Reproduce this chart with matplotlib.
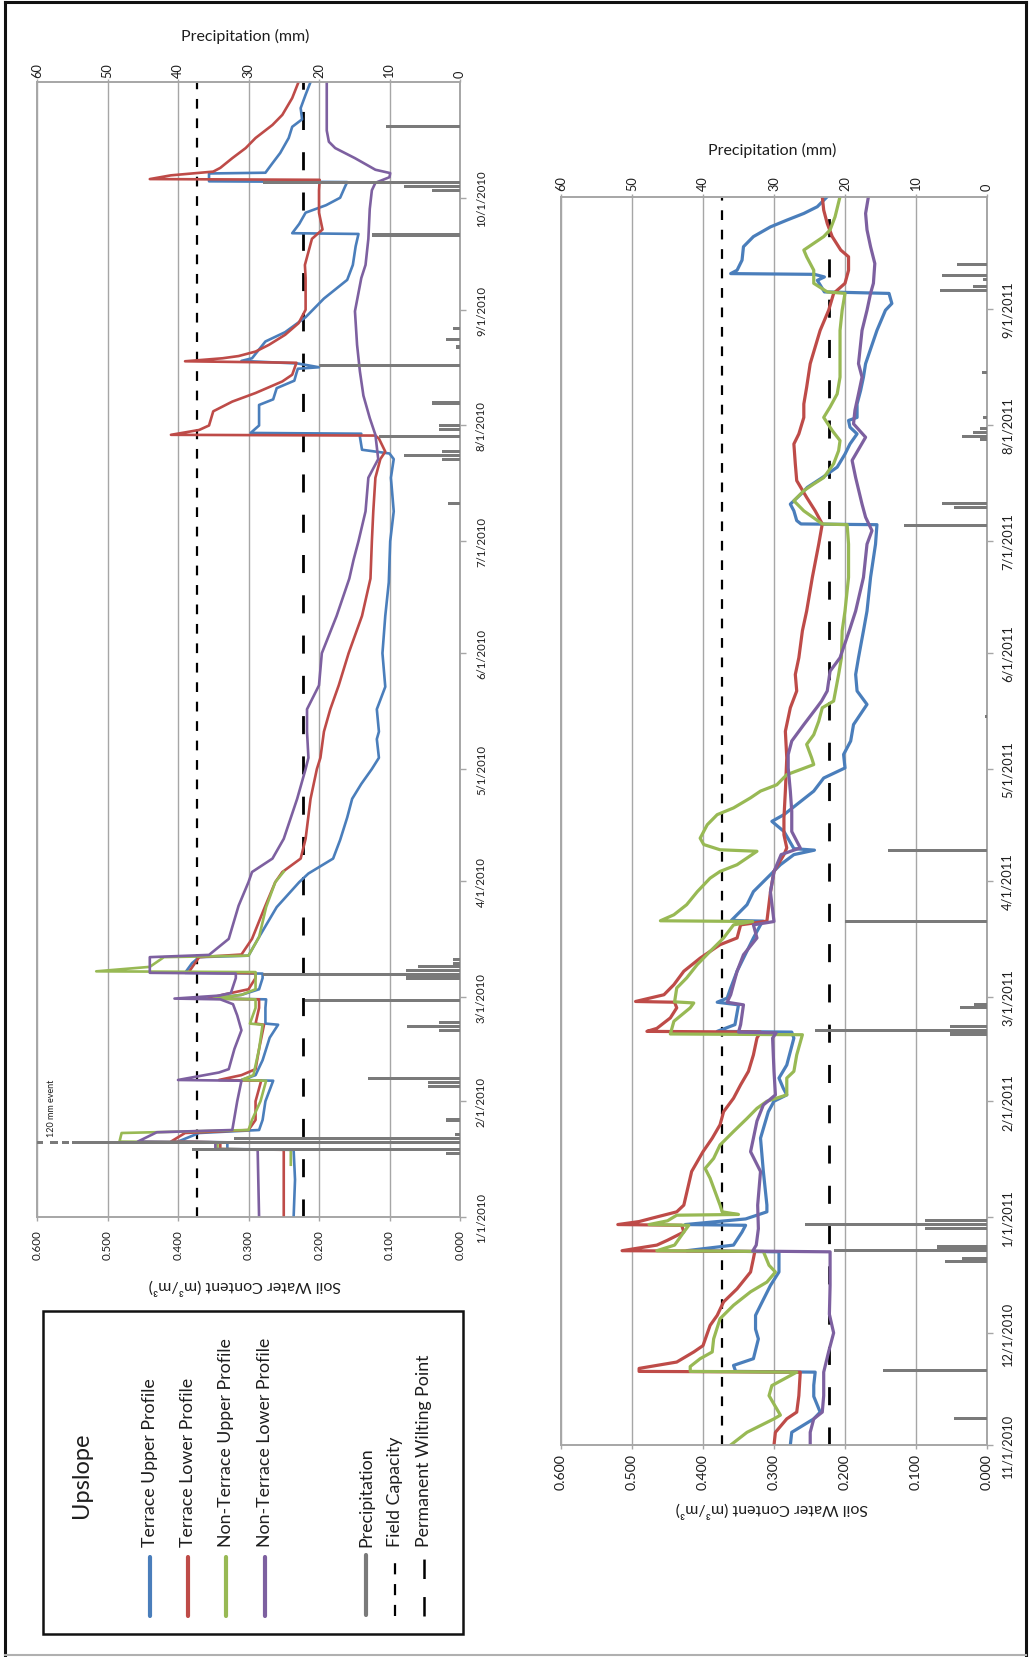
import datetime as dt
import numpy as np
import matplotlib
matplotlib.use("Agg")
import matplotlib.pyplot as plt
import matplotlib.dates as mdates
from matplotlib.lines import Line2D
from matplotlib.patches import Rectangle

plt.rcParams['font.family'] = ['Lato', 'DejaVu Sans']
plt.rcParams['lines.scale_dashes'] = False

# ---------------------------------------------------------------- data
field_capacity = 0.373
wilting_point = 0.222
swc_ticks = [0.0, 0.1, 0.2, 0.3, 0.4, 0.5, 0.6]
precip_ticks = [0, 10, 20, 30, 40, 50, 60]

# first season: day offsets from 1/1/2010, soil water content (m3/m3)
dates_2010 = ["1/1/2010", "2/1/2010", "3/1/2010", "4/1/2010", "5/1/2010",
              "6/1/2010", "7/1/2010", "8/1/2010", "9/1/2010", "10/1/2010"]
start_2010, end_2010 = "1/1/2010", "11/1/2010"

terrace_upper_2010 = [
    (0, .236), (10, .234), (18.0, .236), (18.2, .33), (20.0, .33), (20.2, .40), (22.5, .37),
    (23.3, .285), (26, .28), (31, .276), (35, .268), (36.5, .265), (36.7, .31), (38, .29),
    (42, .28), (48, .27), (51.5, .258), (51.8, .276), (56, .276), (58.3, .275), (58.5, .355),
    (59.5, .31), (61, .285), (64, .28), (65.2, .28), (65.4, .39), (68, .38), (69.6, .37),
    (70, .30), (75, .285), (83, .26), (89.7, .228), (92, .215), (96, .18), (101, .17),
    (107, .16), (112, .153), (116, .14), (120, .125), (123, .115), (128, .118), (130, .115),
    (136, .118), (142, .106), (151, .11), (161, .106), (170, .101), (181, .099), (189, .094),
    (198, .098), (203, .094), (204.5, .10), (205.5, .139), (209, .142), (209.8, .14),
    (210, .297), (212, .285), (217.5, .285), (219, .265), (222, .26), (224, .235), (226, .232),
    (227.2, .23), (227.6, .20), (228.6, .23), (229.3, .31), (230, .295), (234.5, .276),
    (237, .248), (241, .219), (246, .193), (251, .16), (255, .152), (260, .148), (263.3, .144),
    (263.5, .238), (266, .228), (269, .219), (271, .19), (273, .17), (276, .163), (277.2, .16),
    (277.4, .356), (279.5, .356), (279.7, .276), (282, .267), (285, .255), (289, .243),
    (292, .238), (294, .224), (297, .226), (300.6, .219), (304, .212)]

terrace_lower_2010 = [
    (0, .25), (18.0, .25), (18.2, .34), (20.0, .34), (20.2, .41), (22.5, .39), (23.3, .30),
    (26, .29), (31, .29), (36.5, .282), (36.7, .342), (38, .31), (39.6, .29), (45, .285),
    (51.5, .278), (51.8, .29), (56, .285), (58.3, .285), (58.5, .358), (59.5, .337), (61, .30),
    (64, .29), (65.3, .29), (65.5, .385), (69.6, .37), (70.3, .31), (74.5, .295), (83.4, .276),
    (89.7, .262), (92.4, .252), (96, .226), (101.3, .219), (112, .212), (120, .203),
    (123, .198), (130, .193), (136, .184), (142.4, .172), (151, .158), (161, .139), (171, .127),
    (181, .125), (189, .123), (198, .12), (203, .113), (205, .106), (208.5, .115), (209.3, .12),
    (209.5, .41), (210.8, .37), (212, .356), (215.8, .35), (218.4, .323), (220.7, .29),
    (223.8, .252), (225.6, .238), (228.8, .232), (229.2, .39), (230, .337), (230.6, .314),
    (231.8, .29), (233.6, .271), (236.3, .248), (239.4, .229), (243, .219), (251.5, .219),
    (255, .22), (262, .21), (264.5, .195), (269, .20), (275, .20), (277.8, .199), (278.0, .44),
    (279, .41), (280, .35), (281, .34), (283.6, .323), (286.3, .304), (289, .29), (292.5, .266),
    (295.2, .252), (299.7, .238), (304, .229)]

non_terrace_upper_2010 = [
    (14, .24), (18.0, .24), (18.2, .344), (20.0, .344), (20.2, .483), (22.5, .48), (23.3, .30),
    (26, .295), (31, .283), (36.5, .275), (36.7, .31), (38, .293), (45, .285), (51.5, .28),
    (51.8, .298), (56, .29), (58.3, .29), (58.5, .35), (59.5, .31), (61, .29), (64, .29),
    (65.6, .29), (65.8, .516), (67, .44), (69.6, .42), (70, .30), (75, .285), (83, .275),
    (89.7, .262), (92.5, .25)]

non_terrace_lower_2010 = [
    (0, .285), (18.0, .287), (18.2, .347), (20.0, .347), (20.2, .457), (22.7, .43), (23.3, .323),
    (31, .316), (36.5, .31), (36.7, .40), (38.7, .342), (39.6, .328), (45, .32), (50, .31),
    (54, .316), (57, .322), (58.3, .34), (58.5, .405), (59.3, .342), (60, .325), (64, .318),
    (65.2, .318), (65.4, .44), (69.6, .44), (70.2, .356), (74.5, .328), (83.4, .314),
    (89.7, .30), (92.4, .295), (96, .266), (101.3, .25), (112, .231), (120, .219), (123, .215),
    (130, .217), (136, .217), (142.4, .20), (151, .196), (161, .175), (171, .157), (176, .151),
    (181, .144), (189, .134), (198, .13), (203, .116), (209.5, .12), (214, .128), (220, .137),
    (226.5, .142), (233.6, .146), (242.6, .149), (251.5, .14), (255, .134), (262, .13),
    (270, .128), (275, .125), (277, .12), (278.5, .10), (279.6, .099), (280.5, .12),
    (282, .134), (283.6, .149), (286.3, .177), (288, .186), (291, .189), (304, .189)]

precip_2010 = [
    (17, 2), (18, 38), (20, 120), (21, 32), (22, 0.7), (26, 2), (35, 4.5), (36, 4.5), (37, 13),
    (50, 3), (51, 7.5), (52, 3), (58, 22), (64, 7.7), (65, 28), (66, 7.7), (67, 6), (68, 1),
    (69, 1), (191, 1.7), (203, 2.5), (204, 8), (205, 2.5), (209, 11.5), (211, 3), (212, 3),
    (218, 4), (228, 20), (233, 0.5), (235, 2), (238, 1), (263, 12.5), (275, 4), (276, 8),
    (277, 28), (292, 10.5)]

# second season: day offsets from 11/1/2010
dates_2011 = ["11/1/2010", "12/1/2010", "1/1/2011", "2/1/2011", "3/1/2011", "4/1/2011",
              "5/1/2011", "6/1/2011", "7/1/2011", "8/1/2011", "9/1/2011"]
start_2011, end_2011 = "11/1/2010", "10/1/2011"

terrace_upper_2011 = [
    (0, .277), (3.4, .275), (7, .244), (8.8, .235), (13, .244), (16, .244), (19.5, .242),
    (19.7, .354), (21.3, .357), (23.1, .329), (28.4, .322), (31, .326), (34.7, .326),
    (37.4, .319), (42.7, .305), (46.3, .293), (51.7, .293), (52.0, .423), (53.5, .357),
    (57, .345), (58.8, .34), (59.0, .425), (60.5, .34), (62.4, .31), (64.2, .31), (73.2, .315),
    (82.1, .319), (89.2, .308), (92, .30), (93.7, .282), (95.5, .287), (98.2, .293),
    (101.7, .282), (108.9, .272), (110.5, .275), (110.7, .38), (112.5, .355), (117.8, .35),
    (118.5, .38), (119.6, .366), (122.3, .361), (126.8, .352), (135.7, .329), (139.2, .319),
    (140.2, .315), (140.4, .36), (144.6, .338), (148.1, .329), (151.7, .31), (155.3, .291),
    (158, .272), (159.2, .243), (159.6, .272), (164.2, .286), (166.9, .303), (168.7, .286),
    (171.4, .268), (175, .244), (178.5, .23), (181.2, .20), (184.8, .202), (188.4, .192),
    (192.8, .188), (198.2, .169), (201.8, .183), (206.2, .185), (210.7, .181), (217.9, .174),
    (223.2, .169), (232.2, .164), (241.1, .157), (246.3, .155), (246.5, .262), (247.4, .268),
    (250, .272), (251.8, .277), (254.5, .262), (256.3, .253), (258.9, .232), (261.7, .211),
    (265.2, .20), (267.9, .193), (270.6, .183), (272.4, .193), (274.2, .195), (275, .183),
    (278.6, .183), (282.2, .178), (285.8, .174), (289.4, .171), (298.3, .155), (303.7, .143),
    (305.5, .134), (308.2, .138), (308.6, .229), (311.7, .239), (312.6, .229), (313.3, .243),
    (313.5, .361), (314.4, .352), (317.1, .345), (320.7, .343), (323.4, .329), (326, .305),
    (327.8, .282), (329.6, .258), (331.4, .239), (334.1, .225)]

terrace_lower_2011 = [
    (0, .30), (3.4, .298), (7, .282), (8.8, .268), (13.2, .265), (19.5, .263), (19.7, .49),
    (20.5, .49), (22.2, .437), (24.9, .413), (26.6, .40), (32, .39), (34.7, .38), (38.3, .371),
    (41.8, .352), (46.3, .333), (49.9, .329), (51.8, .327), (52.0, .514), (53.5, .465),
    (54.8, .45), (57, .427), (58.8, .43), (59.0, .52), (59.8, .49), (60.6, .474), (62.4, .437),
    (64.2, .427), (73.2, .416), (78.5, .40), (82.1, .387), (85.7, .376), (89.2, .371),
    (92.8, .357), (96.4, .347), (100, .336), (104.4, .329), (108.9, .324), (110.5, .319),
    (110.7, .479), (111.5, .465), (114.3, .446), (117, .437), (118.5, .44), (118.7, .495),
    (120.5, .455), (123.2, .441), (126.8, .427), (130.3, .404), (133.9, .376), (135.7, .352),
    (139.2, .347), (140.2, .31), (148, .305), (153.5, .30), (158, .286), (159.8, .282),
    (163.3, .286), (167.8, .286), (175, .284), (183.9, .282), (191, .284), (197.3, .277),
    (201.8, .268), (206.2, .27), (210.7, .265), (217.9, .26), (223.2, .254), (232.2, .246),
    (241.1, .237), (246.5, .232), (250, .242), (253.6, .254), (258.1, .268), (262.6, .27),
    (267.9, .272), (270.6, .265), (275, .258), (278.6, .258), (283.1, .254), (289.4, .249),
    (298.3, .235), (303.7, .223), (308.2, .216), (310.9, .20), (314.4, .195), (318, .195),
    (319.8, .206), (323.4, .218), (326.9, .225), (330.5, .23), (334.1, .232)]

non_terrace_upper_2011 = [
    (0, .361), (3.4, .338), (7, .30), (8, .291), (13.2, .307), (15.9, .303), (19.5, .268),
    (19.7, .418), (21, .418), (23.1, .404), (24.9, .387), (28.4, .385), (33.8, .376),
    (37.4, .357), (41, .333), (43.6, .31), (46.3, .298), (48.1, .307), (51.8, .315),
    (52.0, .465), (53.5, .44), (57, .427), (58.8, .42), (59.0, .476), (60, .45), (61.5, .437),
    (61.7, .35), (62.4, .373), (64.2, .376), (71.4, .39), (74, .397), (76.7, .385),
    (80.3, .376), (83.9, .357), (87.4, .338), (90.1, .324), (92, .31), (93.7, .282),
    (98.2, .282), (100, .272), (104.4, .268), (109.8, .26), (110.0, .446), (113.4, .441),
    (117, .418), (118.3, .413), (118.6, .44), (122.3, .437), (125, .423), (128.6, .408),
    (132.1, .39), (135.7, .371), (139.2, .357), (140.1, .33), (140.3, .46), (141.9, .441),
    (144.6, .423), (148.1, .408), (151.7, .39), (153.5, .376), (155.3, .352), (157.1, .338),
    (158.9, .324), (159.3, .376), (160.7, .399), (162.4, .404), (166, .394), (168.7, .38),
    (170.5, .357), (173.2, .333), (175, .319), (176.7, .296), (179.4, .282), (182.1, .244),
    (183.9, .247), (187.5, .254), (190.1, .244), (193.7, .237), (197.3, .232), (199.1, .216),
    (206.2, .209), (210.7, .205), (217.9, .204), (223.2, .20), (232.2, .195), (241.1, .195),
    (246.3, .197), (246.5, .232), (250, .258), (252.7, .272), (255.4, .258), (257.2, .244),
    (258.9, .23), (262.6, .216), (266.1, .209), (268.8, .207), (271.5, .218), (275, .23),
    (277.8, .221), (281.3, .211), (285.8, .207), (298.3, .207), (303.7, .204), (308.2, .20),
    (308.6, .225), (310.9, .244), (314.4, .244), (318, .254), (319.8, .258), (321.6, .244),
    (323.4, .23), (325.2, .221), (328.7, .214), (334.1, .207)]

non_terrace_lower_2011 = [
    (0, .249), (3.4, .249), (7, .244), (8.8, .232), (13.2, .23), (19.5, .23), (25, .223),
    (30, .216), (35, .222), (42.7, .221), (51.7, .221), (51.9, .33), (53.5, .325),
    (57.9, .322), (64.2, .323), (73.2, .319), (78.5, .333), (82.1, .329), (86.7, .324),
    (91, .315), (93.7, .298), (100, .30), (108.9, .302), (110.3, .297), (110.5, .35),
    (112.5, .347), (117.8, .343), (118.5, .366), (120.5, .361), (126.8, .352), (131.2, .343),
    (135.7, .324), (139.2, .329), (140.1, .30), (148, .305), (153.5, .30), (158, .29),
    (159.8, .263), (164.2, .275), (169.6, .275), (175, .277), (181.2, .28), (184.8, .28),
    (188.4, .275), (192.8, .258), (197.3, .24), (199.1, .233), (201.8, .225), (207.1, .221),
    (210.7, .207), (217.9, .194), (223.2, .185), (232.2, .174), (241.1, .169), (244.7, .162),
    (248.3, .171), (251.8, .176), (258.9, .185), (263.5, .19), (269.7, .171), (273.3, .188),
    (276.9, .186), (281.3, .181), (285.8, .176), (289.4, .181), (298.3, .176), (303.7, .169),
    (308.2, .164), (310.9, .16), (316.2, .158), (320.7, .164), (325.2, .169), (329.6, .171),
    (334.1, .167)]

precip_2011 = [
    (7, 4.7), (20, 14.6), (49, 5.9), (50, 3.5), (52, 21.6), (53, 7), (58, 8.7), (59, 25.6),
    (60, 8.7), (110, 5.2), (111, 24.2), (112, 5.2), (117, 3.8), (118, 1.9), (140, 20),
    (159, 14), (195, 0.3), (246, 11.7), (251, 4.7), (252, 6.3), (269, 1), (270, 3.5), (271, 2),
    (272, 1), (275, 0.5), (287, 0.7), (309, 6.6), (310, 2), (312, 0.5), (313, 6.3), (316, 4.2)]

series_names = ["Terrace Upper Profile", "Terrace Lower Profile",
                "Non-Terrace Upper Profile", "Non-Terrace Lower Profile"]
series_colors = ["#4a7ebb", "#be4b48", "#98b954", "#7d60a0"]
precip_color = "#7a7a7a"
grid_color = "#a6a6a6"
text_color = "#1e1e1e"

# ---------------------------------------------------------------- layout
W, H = 1029, 1658
fig = plt.figure(figsize=(W / 100, H / 100), dpi=100)
fig.patch.set_facecolor("white")


def box(x0, y0, x1, y1):
    return [x0 / W, 1 - y1 / H, (x1 - x0) / W, (y1 - y0) / H]


def parse(s):
    return dt.datetime.strptime(s, "%m/%d/%Y")


def panel(rect, start, end, tick_dates, series, precip, lw, fs_swc, fs_pr, fs_date,
          pad_swc, pad_pr, pad_date, event=None):
    ax = fig.add_axes(rect)
    t0 = mdates.date2num(parse(start))
    t1 = mdates.date2num(parse(end))
    ax.set_xlim(0.6, 0.0)
    ax.set_ylim(t0, t1)

    ax.set_xticks(swc_ticks)
    ax.set_xticklabels([f"{v:.3f}" for v in swc_ticks], rotation=90,
                       fontsize=fs_swc, color=text_color)
    ax.tick_params(axis="x", length=3, width=1, color=grid_color, pad=pad_swc)
    ax.grid(axis="x", color=grid_color, lw=1.0, zorder=0)

    ax.yaxis.tick_right()
    ax.set_yticks([mdates.date2num(parse(d)) for d in tick_dates])
    ax.set_yticklabels(tick_dates, rotation=90, fontsize=fs_date, color=text_color)
    for lbl in ax.get_yticklabels():
        lbl.set_va("center")
    ax.tick_params(axis="y", length=4, width=1, color=grid_color, pad=pad_date)

    for sp in ax.spines.values():
        sp.set_color(grid_color)
        sp.set_linewidth(1.2)

    for data, color in zip(series, series_colors):
        d, v = zip(*data)
        ax.plot(v, t0 + np.array(d), color=color, lw=lw, zorder=3)

    ax.axvline(field_capacity, color="black", lw=1.6, dashes=(7, 7), zorder=2)
    ax.axvline(wilting_point, color="black", lw=2.0, dashes=(13, 16), zorder=2)

    ax2 = ax.twiny()
    ax2.set_xlim(60, 0)
    pdays, pmm = zip(*precip)
    ax2.barh(t0 + np.array(pdays), pmm, height=0.85, color=precip_color, lw=0, zorder=4)
    ax2.set_xticks(precip_ticks)
    ax2.set_xticklabels([str(p) for p in precip_ticks], rotation=90, fontsize=fs_pr,
                        color=text_color)
    ax2.tick_params(axis="x", length=2, width=1, color=grid_color, pad=pad_pr)
    for sp in ax2.spines.values():
        sp.set_color(grid_color)
        sp.set_linewidth(1.2)

    if event is not None:
        eday, label, gaps = event
        for g0, g1 in gaps:
            ax2.barh(t0 + eday, g1 - g0, left=g0, height=1.3, color="white", lw=0, zorder=5)
        ax2.text(57.9, t0 + eday + 1.7, label, rotation=90, fontsize=6.5, ha="center",
                 va="bottom", color=text_color)
    return ax, ax2


# 120 mm storm runs off the scale; break marks near the axis limit
break_gaps = [(55.0, 55.5), (56.5, 57.0), (58.2, 59.15)]

panel(box(37, 83, 460, 1218), start_2010, end_2010, dates_2010,
      [terrace_upper_2010, terrace_lower_2010, non_terrace_upper_2010, non_terrace_lower_2010],
      precip_2010, lw=1.9, fs_swc=8.4, fs_pr=9.2, fs_date=8.2,
      pad_swc=6.0, pad_pr=1.5, pad_date=7.5, event=(20, "120 mm event", break_gaps))

panel(box(561, 198, 987, 1446), start_2011, end_2011, dates_2011,
      [terrace_upper_2011, terrace_lower_2011, non_terrace_upper_2011, non_terrace_lower_2011],
      precip_2011, lw=2.3, fs_swc=10.2, fs_pr=9.2, fs_date=9.3,
      pad_swc=2.5, pad_pr=3.0, pad_date=6.5)

# ---------------------------------------------------------------- overlay: titles, legend, frame
ov = fig.add_axes([0, 0, 1, 1], zorder=10)
ov.set_xlim(0, W)
ov.set_ylim(H, 0)
ov.axis("off")

ov.text(245, 36, "Precipitation (mm)", ha="center", va="center", fontsize=11.5, color=text_color)
ov.text(245, 1286, "Soil Water Content (m\u00b3/m\u00b3)", ha="center", va="center",
        fontsize=11.5, rotation=180, color=text_color)
ov.text(772, 150, "Precipitation (mm)", ha="center", va="center", fontsize=11.5, color=text_color)
ov.text(772, 1509, "Soil Water Content (m\u00b3/m\u00b3)", ha="center", va="center",
        fontsize=11.5, rotation=180, color=text_color)

# legend box
ov.add_patch(Rectangle((43, 1312), 420, 323, fill=False, ec="#111111", lw=1.8))
ov.text(82, 1475, "Upslope", rotation=90, ha="center", va="center", fontsize=17,
        color=text_color)
legend_x = [150, 188, 226, 265]
for x, name, color in zip(legend_x, series_names, series_colors):
    ov.add_line(Line2D([x, x], [1558, 1617], color=color, lw=3.0, solid_capstyle="round"))
    ov.text(x, 1547, name, rotation=90, ha="center", va="bottom", fontsize=12.8,
            color=text_color)
ov.add_line(Line2D([366, 366], [1556, 1616], color=precip_color, lw=3.0,
                   solid_capstyle="round"))
ov.text(366, 1547, "Precipitation", rotation=90, ha="center", va="bottom", fontsize=12.8,
        color=text_color)
ov.add_line(Line2D([395, 395], [1617, 1556], color="black", lw=1.6, dashes=(8, 7)))
ov.text(395, 1547, "Field Capacity", rotation=90, ha="center", va="bottom", fontsize=12.8,
        color=text_color)
ov.add_line(Line2D([424, 424], [1617, 1556], color="black", lw=1.8, dashes=(14, 13)))
ov.text(424, 1547, "Permanent Wilting Point", rotation=90, ha="center", va="bottom",
        fontsize=12.8, color=text_color)

# outer frame
ov.add_line(Line2D([5, 5], [3, 1656], color="#111111", lw=2.2))
ov.add_line(Line2D([5, 1026], [3, 3], color="#111111", lw=2.2))
ov.add_line(Line2D([1026, 1026], [3, 1656], color="#111111", lw=2.2))
ov.add_line(Line2D([5, 1026], [1656, 1656], color="#b0b0b0", lw=1.5))

fig.savefig("out.png", dpi=100, facecolor="white")
